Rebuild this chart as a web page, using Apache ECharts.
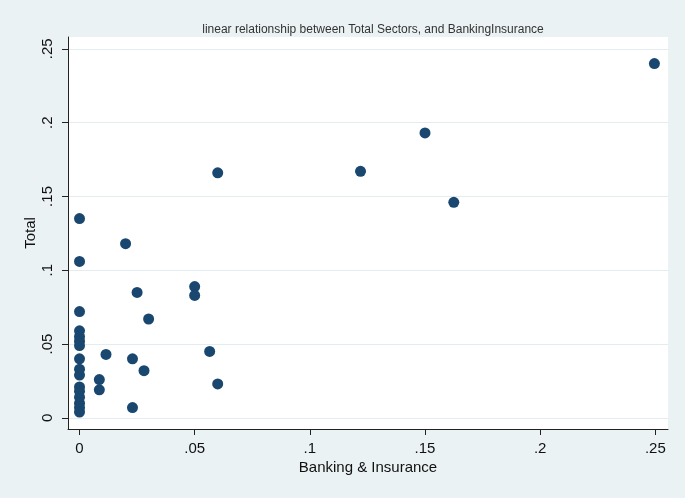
<!DOCTYPE html>
<html>
<head>
<meta charset="utf-8">
<script src="https://cdn.jsdelivr.net/npm/echarts@6/dist/echarts.min.js"></script>
<style>html,body{margin:0;padding:0;background:#eaf2f3;}#c{width:685px;height:498px;}</style>
</head>
<body>
<div id="c"></div>
<script>
const bankingInsurance = [0, 0, 0, 0, 0, 0, 0, 0, 0, 0, 0, 0, 0, 0, 0, 0,
  0.0115, 0.0086, 0.0086, 0.020, 0.023, 0.023, 0.025, 0.028, 0.030, 0.050, 0.050, 0.0565, 0.060, 0.060,
  0.122, 0.150, 0.1625, 0.2496];
const total = [0.135, 0.106, 0.072, 0.059, 0.055, 0.052, 0.049, 0.040, 0.033, 0.029, 0.021, 0.018, 0.014, 0.010, 0.007, 0.004,
  0.043, 0.026, 0.019, 0.118, 0.040, 0.007, 0.085, 0.032, 0.067, 0.089, 0.083, 0.045, 0.023, 0.166,
  0.167, 0.193, 0.146, 0.240];
const tickValues = [0, 0.05, 0.1, 0.15, 0.2, 0.25];

const points = bankingInsurance.map((x, i) => [x, total[i]]);
const fmt = v => (v === 0 ? '0' : String(Math.round(v * 100) / 100).replace(/^0/, ''));
const font = 'Liberation Sans';

const chart = echarts.init(document.getElementById('c'));
chart.setOption({
  backgroundColor: '#eaf2f3',
  animation: false,
  title: {
    text: 'linear relationship between Total Sectors, and BankingInsurance',
    left: 368, top: 19, textAlign: 'center',
    textStyle: { fontFamily: font, fontSize: 12, fontWeight: 'normal', color: '#333' }
  },
  grid: { left: 68, right: 17, top: 37, bottom: 69, show: true, backgroundColor: '#ffffff', borderWidth: 0 },
  xAxis: {
    type: 'value', min: -0.005, max: 0.2555,
    name: 'Banking & Insurance', nameLocation: 'middle', nameGap: 31, nameMoveOverlap: false,
    nameTextStyle: { fontFamily: font, fontSize: 15, color: '#111' },
    axisLine: { show: true, onZero: false, lineStyle: { color: '#222', width: 1 } },
    axisTick: { show: true, length: 6, lineStyle: { color: '#222' }, customValues: tickValues },
    axisLabel: { fontFamily: font, fontSize: 15, color: '#111', margin: 12, formatter: fmt, customValues: tickValues },
    splitLine: { show: false }
  },
  yAxis: {
    type: 'value', min: -0.0075, max: 0.258,
    name: 'Total', nameLocation: 'middle', nameGap: 30, nameRotate: 90, nameMoveOverlap: false,
    nameTextStyle: { fontFamily: font, fontSize: 15, color: '#111' },
    axisLine: { show: true, onZero: false, lineStyle: { color: '#222', width: 1 } },
    axisTick: { show: true, length: 6, lineStyle: { color: '#222' }, customValues: tickValues },
    axisLabel: { fontFamily: font, fontSize: 15, color: '#111', margin: 13, rotate: 90, formatter: fmt, customValues: tickValues },
    splitLine: { show: true, lineStyle: { color: '#e3edf0', width: 1 } }
  },
  series: [{
    type: 'scatter',
    data: points,
    symbol: 'circle',
    symbolSize: 11,
    itemStyle: { color: '#1a476f', opacity: 1 }
  }]
});
</script>
</body>
</html>
